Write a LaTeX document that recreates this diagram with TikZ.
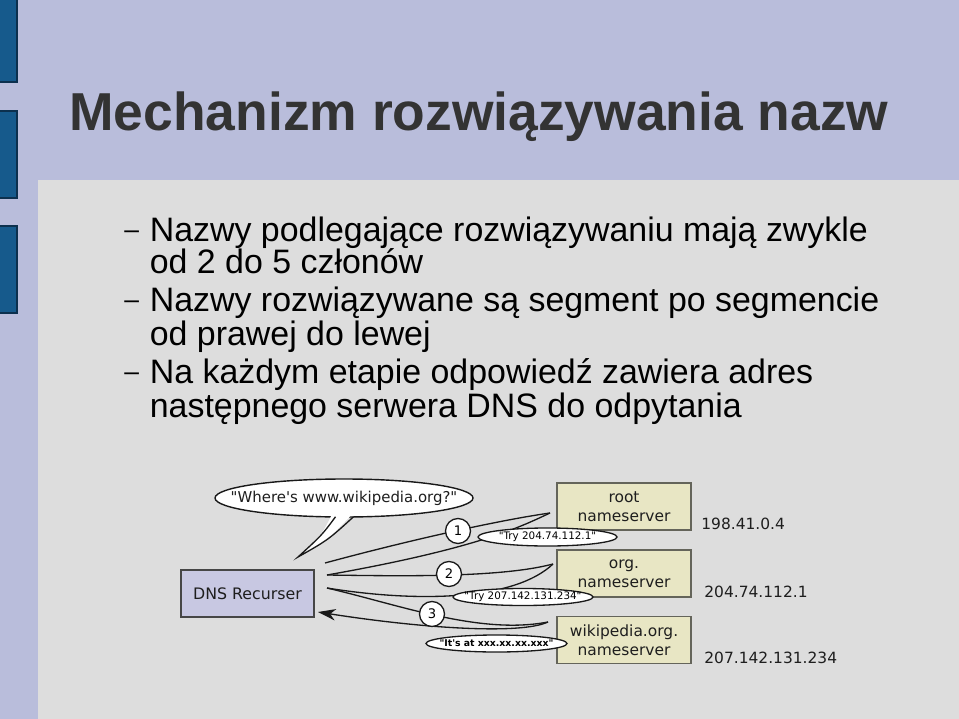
\documentclass[tikz,border=0pt]{standalone}
\usepackage{fontspec}
\setmainfont{Liberation Sans}
\newfontfamily\diagfont[Ligatures=TeXOff]{DejaVu Sans}
\usetikzlibrary{shapes,arrows.meta}
\definecolor{slidebg}{RGB}{185,189,219}
\definecolor{panelgray}{RGB}{221,221,221}
\definecolor{barblue}{RGB}{22,90,140}
\definecolor{barborder}{RGB}{12,48,78}
\definecolor{titlegray}{RGB}{51,51,51}
\definecolor{recfill}{RGB}{200,200,226}
\definecolor{recline}{RGB}{70,70,70}
\definecolor{srvfill}{RGB}{232,230,196}
\definecolor{srvline}{RGB}{100,100,90}
\definecolor{diagtext}{RGB}{30,30,30}

\begin{document}
\begin{tikzpicture}[x=0.02cm, y=-0.02cm
        , slidetitle/.style={anchor=base west, inner sep=0pt, text=titlegray, font=\fontsize{30.4pt}{32pt}\bfseries\selectfont}
        , bulletline/.style={anchor=base west, inner sep=0pt, font=\fontsize{19.3pt}{22pt}\selectfont}
        , bulletdash/.style={anchor=base west, inner sep=0pt, font=\fontsize{15pt}{18pt}\selectfont}
        , recurser/.style={rectangle, draw=recline, line width=1pt, fill=recfill, minimum width=2.66cm, minimum height=0.94cm, font=\diagfont\fontsize{9pt}{11pt}\selectfont, text=diagtext}
        , server/.style={rectangle, draw=srvline, line width=1.1pt, fill=srvfill, align=center, minimum width=2.68cm, minimum height=0.94cm, inner sep=0pt, font=\diagfont\fontsize{8.8pt}{10.8pt}\selectfont, text=diagtext}
        , address/.style={anchor=west, inner sep=0pt, font=\diagfont\fontsize{8.8pt}{10pt}\selectfont, text=diagtext}
        , link/.style={line width=0.75pt, draw=black!90}
        , balloon/.style={line width=0.8pt, draw=black!90, fill=white}
        , stepnum/.style={circle, draw=black!90, line width=0.75pt, fill=white, minimum size=0.5cm, inner sep=0pt, font=\diagfont\fontsize{7.5pt}{8pt}\selectfont}
        , replytext/.style={inner sep=0pt, font=\diagfont\fontsize{5.9pt}{6pt}\selectfont}
    ]
    \useasboundingbox (0,0) rectangle (959,719);

    % slide background
    \fill[slidebg] (0,0) rectangle (959,719);
    \fill[panelgray] (38,180) rectangle (959,719);
    \foreach \y in {-5,111,226}
        \draw[barborder, fill=barblue, line width=0.8pt] (-5,\y) rectangle (17,\y+87);

    \node[slidetitle] (title) at (69,131) {Mechanizm rozwiązywania nazw};

    % bullets
    \node[bulletdash] (dashA) at (124,239) {–};
    \node[bulletline] (lineA) at (149.5,242) {Nazwy podlegające rozwiązywaniu mają zwykle};
    \node[bulletline] (lineB) at (149.5,274) {od 2 do 5 członów};
    \node[bulletdash] (dashB) at (124,308) {–};
    \node[bulletline] (lineC) at (149.5,311) {Nazwy rozwiązywane są segment po segmencie};
    \node[bulletline] (lineD) at (149.5,345) {od prawej do lewej};
    \node[bulletdash] (dashC) at (124,380) {–};
    \node[bulletline] (lineE) at (149.5,383) {Na każdym etapie odpowiedź zawiera adres};
    \node[bulletline] (lineF) at (149.5,417) {następnego serwera DNS do odpytania};

    % boxes
    \node[recurser] (recurser) at (247.5,593.5) {DNS Recurser};
    \node[server] (root) at (624,506.5) {root\\nameserver};
    \node[server] (org) at (624,573.5) {org.\\nameserver};
    \node[server] (wiki) at (624,640) {wikipedia.org.\\nameserver};
    \node[address] (rootip) at (701,524) {198.41.0.4};
    \node[address] (orgip) at (704,592) {204.74.112.1};
    \node[address] (wikiip) at (704,658) {207.142.131.234};

    % question balloon
    \draw[balloon] (344,498) ellipse [x radius=129, y radius=19];
    \fill[white] (334,510) .. controls (322,535) .. (298,557) .. controls (328,540) .. (356,510) -- cycle;
    \draw[link] (335.5,516.8) .. controls (322,535) .. (298,557) .. controls (328,540) .. (353.5,516.8);
    \node[inner sep=0pt, font=\diagfont\fontsize{8.5pt}{10pt}\selectfont, text=diagtext] (question) at (344,498) {"Where's www.wikipedia.org?"};

    % ends of the queries
    \coordinate (askA) at (325,563);
    \coordinate (askB) at (327,575);
    \coordinate (askC) at (327,588);
    \coordinate (tipA) at (550,513);
    \coordinate (tipB) at (553,564);
    \coordinate (tipC) at (548,622);
    \coordinate (answer) at (318,612);

    \draw[link] (askA) .. controls (410,540) and (500,520) .. (tipA);
    \draw[link] (tipA) .. controls (522,526) and (480,548) .. (askB);
    \draw[link] (askB) .. controls (400,576) and (500,578) .. (tipB);
    \draw[link] (tipB) .. controls (515,600) and (420,603) .. (askC);
    \draw[link] (askC) .. controls (400,605) and (480,635) .. (tipC);
    \draw[link, -{Stealth[length=10pt,width=6.5pt,inset=3pt]}] (tipC) .. controls (520,635) and (420,628) .. (answer);

    % replies
    \draw[balloon, line width=0.75pt] (547.5,537) ellipse [x radius=69.5, y radius=9];
    \node[replytext] (tryorg) at (547.5,537) {"Try 204.74.112.1"};
    \draw[balloon, line width=0.75pt] (523,597) ellipse [x radius=70, y radius=8.5];
    \node[replytext] (trywiki) at (523,597) {"Try 207.142.131.234"};
    \draw[balloon, line width=0.75pt] (496.5,643.5) ellipse [x radius=70.5, y radius=8.5];
    \node[replytext, font=\diagfont\fontsize{5.3pt}{6pt}\bfseries\selectfont] (itsat) at (496.5,643.5) {"It's at xxx.xx.xx.xxx"};

    % step numbers
    \node[stepnum] (stepA) at (458,531) {1};
    \node[stepnum] (stepB) at (449,574) {2};
    \node[stepnum] (stepC) at (432,614) {3};
\end{tikzpicture}
\end{document}
